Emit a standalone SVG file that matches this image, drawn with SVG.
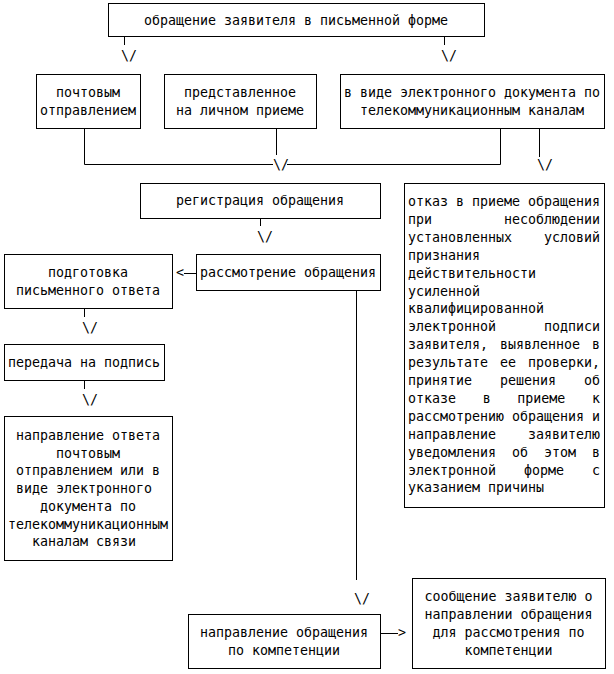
<svg xmlns="http://www.w3.org/2000/svg" width="614" height="674" viewBox="0 0 614 674">
<style>
rect.b{fill:#fff;stroke:#000;stroke-width:1}
text{font-family:"DejaVu Sans Mono","Liberation Mono",monospace;font-size:13.3px;fill:#000}
.c{text-anchor:middle}
.e{text-anchor:end}
.ln{fill:none;stroke:#000;stroke-width:1}
</style>
<rect width="614" height="674" fill="#fff"/>
<g id="connectors">
<line class="ln" x1="124.5" y1="36" x2="124.5" y2="45"/><text x="121" y="60">\/</text>
<line class="ln" x1="444.5" y1="36" x2="444.5" y2="45"/><text x="441" y="60">\/</text>
<polyline class="ln" points="84.5,128 84.5,164.5 273,164.5"/>
<polyline class="ln" points="287,164.5 500.5,164.5 500.5,128"/>
<line class="ln" x1="276.5" y1="128" x2="276.5" y2="155"/><text x="273" y="169">\/</text>
<line class="ln" x1="539.5" y1="128" x2="539.5" y2="157"/><text x="537" y="169">\/</text>
<line class="ln" x1="260.5" y1="218" x2="260.5" y2="226"/><text x="257" y="241">\/</text>
<line class="ln" x1="184" y1="273.5" x2="196" y2="273.5"/><text x="176" y="277">&lt;</text>
<line class="ln" x1="84.5" y1="308" x2="84.5" y2="317"/><text x="82" y="332">\/</text>
<line class="ln" x1="84.5" y1="380" x2="84.5" y2="389"/><text x="82" y="404">\/</text>
<line class="ln" x1="356.5" y1="290" x2="356.5" y2="580"/><text x="354" y="603">\/</text>
<line class="ln" x1="380" y1="633.5" x2="398" y2="633.5"/><text x="398" y="637">&gt;</text>
</g>
<g id="n_top"><rect class="b" x="108.5" y="3.5" width="376" height="33"/><text class="c" x="296" y="25">обращение заявителя в письменной форме</text></g>
<g id="n_post"><rect class="b" x="36.5" y="74.5" width="104" height="54"/><text class="c" x="88" y="97">почтовым</text><text class="c" x="88" y="115">отправлением</text></g>
<g id="n_personal"><rect class="b" x="164.5" y="74.5" width="152" height="54"/><text class="c" x="240" y="97">представленное</text><text class="c" x="240" y="115">на личном приеме</text></g>
<g id="n_electronic"><rect class="b" x="340.5" y="74.5" width="264" height="54"/><text class="c" x="472" y="97">в виде электронного документа по</text><text class="c" x="472" y="115">телекоммуникационным каналам</text></g>
<g id="n_registration"><rect class="b" x="140.5" y="183.5" width="240" height="35"/><text class="c" x="260" y="205">регистрация обращения</text></g>
<g id="n_review"><rect class="b" x="196.5" y="254.5" width="184" height="36"/><text class="c" x="288" y="277">рассмотрение обращения</text></g>
<g id="n_prepare"><rect class="b" x="4.5" y="254.5" width="168" height="54"/><text class="c" x="88" y="277">подготовка</text><text class="c" x="88" y="295">письменного ответа</text></g>
<g id="n_sign"><rect class="b" x="4.5" y="344.5" width="160" height="36"/><text class="c" x="84" y="367">передача на подпись</text></g>
<g id="n_send"><rect class="b" x="4.5" y="416.5" width="168" height="144"/>
<text class="c" x="88" y="440">направление ответа</text>
<text class="c" x="88" y="457.7">почтовым</text>
<text class="c" x="88" y="475.4">отправлением или в</text>
<text x="16" y="493.1">виде электронного</text>
<text class="c" x="88" y="510.8">документа по</text>
<text class="c" x="88" y="528.5">телекоммуникационным</text>
<text x="32" y="546.2">каналам связи</text>
</g>
<g id="n_refusal"><rect class="b" x="404.5" y="183.5" width="200" height="324"/>
<text x="408" y="206">отказ в приеме обращения</text>
<text x="408" y="223.9">при</text><text class="e" x="600" y="223.9">несоблюдении</text>
<text x="408" y="241.8">установленных</text><text class="e" x="600" y="241.8">условий</text>
<text x="408" y="259.7">признания</text>
<text x="408" y="277.6">действительности</text>
<text x="408" y="295.5">усиленной</text>
<text x="408" y="313.4">квалифицированной</text>
<text x="408" y="331.3">электронной</text><text class="e" x="600" y="331.3">подписи</text>
<text x="408" y="349.2">заявителя,</text><text x="500" y="349.2">выявленное</text><text class="e" x="600" y="349.2">в</text>
<text x="408" y="367.1">результате</text><text x="500" y="367.1">ее</text><text class="e" x="600" y="367.1">проверки,</text>
<text x="408" y="385">принятие</text><text x="500" y="385">решения</text><text class="e" x="600" y="385">об</text>
<text x="408" y="402.9">отказе</text><text x="482.7" y="402.9">в</text><text x="517.3" y="402.9">приеме</text><text class="e" x="600" y="402.9">к</text>
<text x="408" y="420.8">рассмотрению обращения и</text>
<text x="408" y="438.7">направление</text><text class="e" x="600" y="438.7">заявителю</text>
<text x="408" y="456.6">уведомления</text><text x="512" y="456.6">об</text><text x="544" y="456.6">этом</text><text class="e" x="600" y="456.6">в</text>
<text x="408" y="474.5">электронной</text><text x="524" y="474.5">форме</text><text class="e" x="600" y="474.5">с</text>
<text x="408" y="492.4">указанием причины</text>
</g>
<g id="n_redirect"><rect class="b" x="188.5" y="614.5" width="192" height="54"/><text class="c" x="284" y="637">направление обращения</text><text class="c" x="284" y="655">по компетенции</text></g>
<g id="n_notify"><rect class="b" x="412.5" y="578.5" width="193" height="90"/>
<text class="c" x="508.5" y="601">сообщение заявителю о</text>
<text class="c" x="508.5" y="619">направлении обращения</text>
<text class="c" x="508.5" y="637">для рассмотрения по</text>
<text class="c" x="508.5" y="655">компетенции</text>
</g>
</svg>
